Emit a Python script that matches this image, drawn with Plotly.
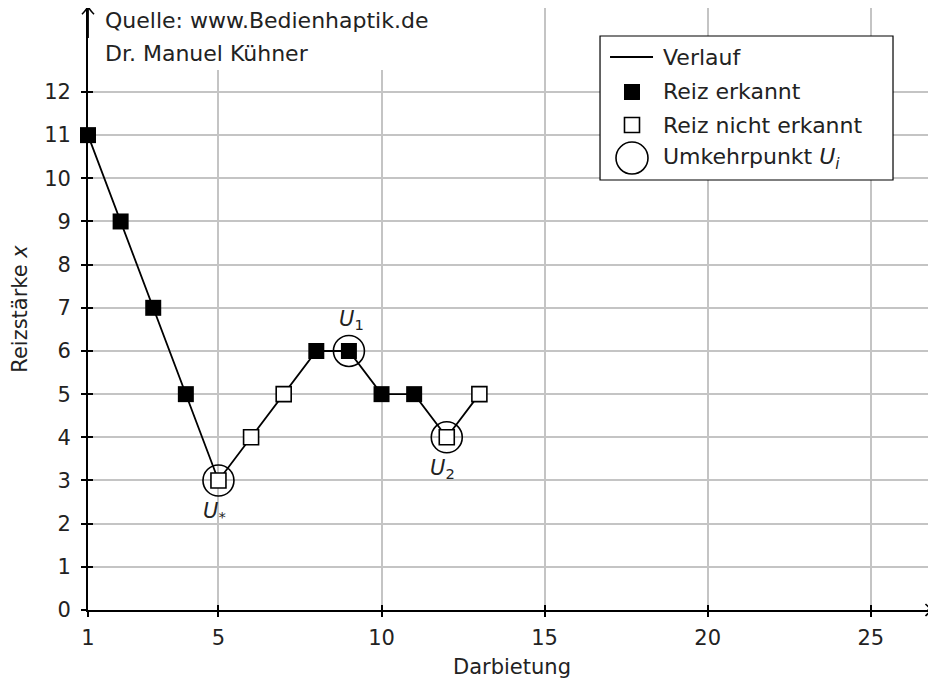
import plotly.graph_objects as go

# ---- data ----
darbietung = [1, 2, 3, 4, 5, 6, 7, 8, 9, 10, 11, 12, 13]
reizstaerke = [11, 9, 7, 5, 3, 4, 5, 6, 6, 5, 5, 4, 5]
erkannt = [True, True, True, True, False, False, False, True, True, True, True, False, False]
umkehr_idx = [4, 8, 11]          # indices of reversal points
umkehr_labels = ["<i>U</i><sub>*</sub>", "<i>U</i><sub>1</sub>", "<i>U</i><sub>2</sub>"]
umkehr_pos = ["below", "above", "below"]

x_ticks = [1, 5, 10, 15, 20, 25]
y_ticks = list(range(0, 13))
x_range = [1, 27]
y_range = [0, 13.945]

legend_labels = ["Verlauf", "Reiz erkannt", "Reiz nicht erkannt", "Umkehrpunkt <i>U</i><sub><i>i</i></sub>"]

FONT = "DejaVu Sans"
FS = 21
FS_TXT = 22
BLACK = "#000000"
TXT = "#222222"
GRID = "#c4c4c4"

x_on = [x for x, e in zip(darbietung, erkannt) if e]
y_on = [y for y, e in zip(reizstaerke, erkannt) if e]
x_off = [x for x, e in zip(darbietung, erkannt) if not e]
y_off = [y for y, e in zip(reizstaerke, erkannt) if not e]
x_u = [darbietung[i] for i in umkehr_idx]
y_u = [reizstaerke[i] for i in umkehr_idx]

fig = go.Figure()
fig.add_trace(go.Scatter(x=darbietung, y=reizstaerke, mode="lines",
                         line=dict(color=BLACK, width=1.8), showlegend=False))
fig.add_trace(go.Scatter(x=x_on, y=y_on, mode="markers", cliponaxis=False,
                         marker=dict(symbol="square", size=16, color=BLACK,
                                     line=dict(color=BLACK, width=0)), showlegend=False))
fig.add_trace(go.Scatter(x=x_off, y=y_off, mode="markers", cliponaxis=False,
                         marker=dict(symbol="square", size=15, color="white",
                                     line=dict(color=BLACK, width=1.6)), showlegend=False))
fig.add_trace(go.Scatter(x=x_u, y=y_u, mode="markers", cliponaxis=False,
                         marker=dict(symbol="circle-open", size=31, color=BLACK,
                                     line=dict(color=BLACK, width=1.6)), showlegend=False))
# carrier trace so the overlay axes (inner tick halves) are drawn
fig.add_trace(go.Scatter(x=[None], y=[None], xaxis="x2", yaxis="y2", mode="markers",
                         showlegend=False, hoverinfo="skip"))

annotations = []
for xv, yv, lab, pos in zip(x_u, y_u, umkehr_labels, umkehr_pos):
    annotations.append(dict(x=xv, y=yv, xref="x", yref="y", text=lab, showarrow=False,
                            xanchor="center", yanchor="middle",
                            xshift=3 if pos == "above" else -4,
                            yshift=31 if pos == "above" else -32,
                            font=dict(family=FONT, size=FS, color=TXT)))

# source text
annotations.append(dict(x=0.018, y=0.980, xref="paper", yref="paper", xanchor="left",
                        yanchor="middle", text="Quelle: www.Bedienhaptik.de", showarrow=False,
                        font=dict(family=FONT, size=FS_TXT, color=TXT)))
annotations.append(dict(x=0.018, y=0.9252, xref="paper", yref="paper", xanchor="left",
                        yanchor="middle", text="Dr. Manuel Kühner", showarrow=False,
                        font=dict(family=FONT, size=FS_TXT, color=TXT)))

# manual legend
row_y = [0.9186, 0.8605, 0.8056, 0.7508]
for ly, lab in zip(row_y, legend_labels):
    annotations.append(dict(x=0.6757, y=ly, xref="paper", yref="paper", xanchor="left",
                            yanchor="middle", text=lab, showarrow=False,
                            font=dict(family=FONT, size=FS_TXT, color=TXT)))

sample_x = 0.6415
shapes = [
    # white area behind source text
    dict(type="rect", xref="paper", yref="paper", x0=0.0083, x1=0.415, y0=0.897, y1=1.0,
         fillcolor="white", line=dict(width=0), layer="above"),
    # axis arrow heads (barbed, open)
    dict(type="line", xref="paper", yref="paper", x0=0.99, x1=0.997, y0=0, y1=0,
         line=dict(color=BLACK, width=1.8), layer="above"),
    dict(type="path", xref="paper", yref="paper", xsizemode="pixel", ysizemode="pixel",
         xanchor=0.997, yanchor=0.0, path="M -8,6 Q -3,1 0,0 Q -3,-1 -8,-6",
         line=dict(color=BLACK, width=1.6), fillcolor="rgba(0,0,0,0)", layer="above"),
    dict(type="line", xref="paper", yref="paper", x0=0, x1=0, y0=0.95, y1=1.003,
         line=dict(color=BLACK, width=1.8), layer="above"),
    dict(type="path", xref="paper", yref="paper", xsizemode="pixel", ysizemode="pixel",
         xanchor=0.0, yanchor=1.003, path="M -6,-8 Q -1,-3 0,0 Q 1,-3 6,-8",
         line=dict(color=BLACK, width=1.6), fillcolor="rgba(0,0,0,0)", layer="above"),
    # legend box
    dict(type="rect", xref="paper", yref="paper", x0=0.6038, x1=0.9493, y0=0.7143, y1=0.9535,
         fillcolor="white", line=dict(color=BLACK, width=1.2), layer="above"),
    dict(type="line", xref="paper", yref="paper", x0=0.6156, x1=0.6663, y0=row_y[0], y1=row_y[0],
         line=dict(color=BLACK, width=1.8), layer="above"),
    dict(type="rect", xref="paper", yref="paper", xsizemode="pixel", ysizemode="pixel",
         xanchor=sample_x, yanchor=row_y[1], x0=-8, x1=8, y0=-8, y1=8,
         fillcolor=BLACK, line=dict(width=0), layer="above"),
    dict(type="rect", xref="paper", yref="paper", xsizemode="pixel", ysizemode="pixel",
         xanchor=sample_x, yanchor=row_y[2], x0=-7.5, x1=7.5, y0=-7.5, y1=7.5,
         fillcolor="white", line=dict(color=BLACK, width=1.6), layer="above"),
    dict(type="circle", xref="paper", yref="paper", xsizemode="pixel", ysizemode="pixel",
         xanchor=sample_x, yanchor=row_y[3], x0=-16, x1=16, y0=-16, y1=16,
         fillcolor="rgba(0,0,0,0)", line=dict(color=BLACK, width=1.6), layer="above"),
]

fig.update_layout(
    width=928, height=677,
    margin=dict(l=80, r=0, t=0, b=75, autoexpand=False),
    paper_bgcolor="white", plot_bgcolor="white",
    font=dict(family=FONT, size=FS, color=TXT),
    showlegend=False,
    annotations=annotations,
    shapes=shapes,
    xaxis=dict(range=x_range, tickmode="array", tickvals=x_ticks, ticktext=[str(v) for v in x_ticks],
               showgrid=True, gridcolor=GRID, gridwidth=1.6, zeroline=False, automargin=False,
               showline=True, linecolor=BLACK, linewidth=1.8, layer="below traces",
               ticks="outside", ticklen=5, tickwidth=1.6, tickcolor=BLACK,
               ticklabelstandoff=3,
               title=dict(text="Darbietung", standoff=10,
                          font=dict(family=FONT, size=FS, color=TXT)),
               tickfont=dict(family=FONT, size=FS, color=TXT)),
    yaxis=dict(range=y_range, tickmode="array", tickvals=y_ticks, ticktext=[str(v) for v in y_ticks],
               showgrid=True, gridcolor=GRID, gridwidth=1.6, zeroline=False, automargin=False,
               showline=True, linecolor=BLACK, linewidth=1.8, layer="below traces",
               ticks="outside", ticklen=5, tickwidth=1.6, tickcolor=BLACK,
               ticklabelstandoff=6,
               title=dict(text="Reizstärke <i>x</i>", standoff=12,
                          font=dict(family=FONT, size=FS, color=TXT)),
               tickfont=dict(family=FONT, size=FS, color=TXT)),
    xaxis2=dict(range=x_range, overlaying="x", anchor="y2", side="bottom", automargin=False,
                tickmode="array", tickvals=x_ticks, showticklabels=False, showgrid=False,
                zeroline=False, showline=False, ticks="inside", ticklen=5, tickwidth=1.6,
                tickcolor=BLACK),
    yaxis2=dict(range=y_range, overlaying="y", anchor="x2", side="left", automargin=False,
                tickmode="array", tickvals=y_ticks, showticklabels=False, showgrid=False,
                zeroline=False, showline=False, ticks="inside", ticklen=5, tickwidth=1.6,
                tickcolor=BLACK),
)

fig.write_html("out.html")
